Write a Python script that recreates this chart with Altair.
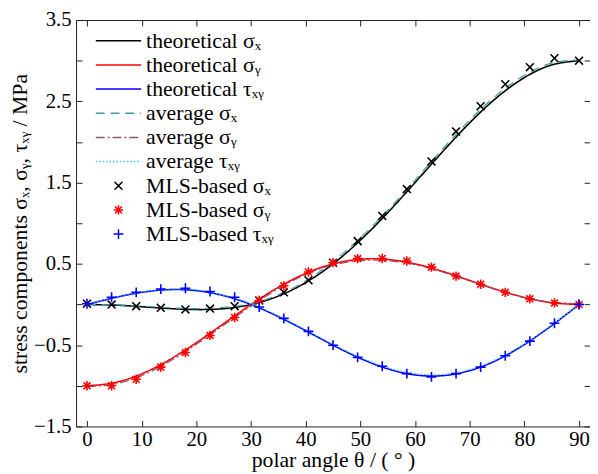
import altair as alt
import pandas as pd

# ---------------- data ----------------
series = [
    "theoretical σₓ", "theoretical σᵧ", "theoretical τₓᵧ",
    "average σₓ", "average σᵧ", "average τₓᵧ",
    "MLS-based σₓ", "MLS-based σᵧ", "MLS-based τₓᵧ",
]
colors = ["#000000", "#ff0000", "#0000ff",
          "#3f9f9f", "#94506f", "#35c8e8",
          "#000000", "#ff0000", "#0000ff"]

theta_curve = [0, 5, 10, 15, 20, 25, 30, 35, 40, 45, 50, 55, 60, 65, 70, 75, 80, 85, 90]
theo_sx = [0.0, -0.007, -0.027, -0.049, -0.062, -0.051, 0.0, 0.104, 0.270, 0.500, 0.791,
           1.130, 1.500, 1.877, 2.236, 2.549, 2.792, 2.947, 3.0]
theo_sy = [-1.0, -0.962, -0.853, -0.683, -0.470, -0.235, 0.0, 0.212, 0.383, 0.500, 0.557,
           0.554, 0.500, 0.408, 0.296, 0.183, 0.087, 0.023, 0.0]
theo_txy = [0.0, 0.084, 0.150, 0.183, 0.171, 0.109, 0.0, -0.149, -0.321, -0.500, -0.663,
            -0.791, -0.866, -0.875, -0.814, -0.683, -0.492, -0.258, 0.0]
avg_sx = [0.0, -0.005, -0.02, -0.04, -0.05, -0.035, 0.01, 0.12, 0.29, 0.53, 0.82,
          1.16, 1.53, 1.91, 2.27, 2.58, 2.82, 2.97, 3.01]
avg_sy = [-1.01, -0.98, -0.875, -0.705, -0.49, -0.255, -0.02, 0.195, 0.37, 0.485, 0.54,
          0.54, 0.49, 0.40, 0.29, 0.18, 0.085, 0.03, 0.01]
avg_txy = [0.005, 0.09, 0.155, 0.19, 0.18, 0.115, 0.01, -0.14, -0.31, -0.49, -0.65,
           -0.775, -0.85, -0.86, -0.80, -0.67, -0.485, -0.25, 0.0]

theta_mls = [0, 4.5, 9, 13.5, 18, 22.5, 27, 31.5, 36, 40.5, 45, 49.5, 54, 58.5, 63,
             67.5, 72, 76.5, 81, 85.5, 90]
mls_sx = [0.01, 0.0, -0.02, -0.04, -0.06, -0.05, -0.02, 0.05, 0.15, 0.30, 0.515, 0.78,
          1.09, 1.42, 1.76, 2.13, 2.44, 2.71, 2.92, 3.03, 3.0]
mls_sy = [-1.0, -1.0, -0.92, -0.77, -0.59, -0.38, -0.16, 0.05, 0.23, 0.40, 0.515, 0.565,
          0.567, 0.535, 0.46, 0.35, 0.25, 0.15, 0.07, 0.02, 0.0]
mls_txy = [0.01, 0.09, 0.15, 0.19, 0.20, 0.16, 0.09, -0.03, -0.17, -0.33, -0.50, -0.65,
           -0.76, -0.85, -0.89, -0.85, -0.77, -0.63, -0.45, -0.23, 0.0]

x_ticks = [0, 10, 20, 30, 40, 50, 60, 70, 80, 90]
y_ticks = [-1.5, -1.0, -0.5, 0.0, 0.5, 1.0, 1.5, 2.0, 2.5, 3.0, 3.5]

# ---------------- tables ----------------
def long_table(names, lists, thetas):
    rows = []
    for n, vals in zip(names, lists):
        for t, v in zip(thetas, vals):
            rows.append({"theta": t, "value": v, "series": n})
    return pd.DataFrame(rows)

df_theo = long_table(series[0:3], [theo_sx, theo_sy, theo_txy], theta_curve)
df_avg = long_table(series[3:6], [avg_sx, avg_sy, avg_txy], theta_curve)
df_mls = long_table(series[6:9], [mls_sx, mls_sy, mls_txy], theta_mls)

# legend / marker styles
line_path = "M-4.6,0H4.6"
cross_path = "M-0.8,-0.8L0.8,0.8M-0.8,0.8L0.8,-0.8"
star_path = "M-0.95,0H0.95M0,-0.95V0.95M-0.7,-0.7L0.7,0.7M-0.7,0.7L0.7,-0.7"
plus_path = "M-1,0H1M0,-1V1"
shapes = [line_path] * 6 + [cross_path, star_path, plus_path]
dashes = [[1, 0], [1, 0], [1, 0], [9, 6], [9, 3, 2, 3], [1.5, 2], [1, 0], [1, 0], [1, 0]]

FONT = "Liberation Serif"
inward = {"expr": "-6"}

legend = alt.Legend(orient="none", legendX=32, legendY=10, title=None)
color = alt.Color("series:N", scale=alt.Scale(domain=series, range=colors), legend=legend, title=None)
dash = alt.StrokeDash("series:N", scale=alt.Scale(domain=series, range=dashes), legend=legend, title=None)
shape = alt.Shape("series:N", scale=alt.Scale(domain=series, range=shapes), legend=legend, title=None)

xscale = alt.Scale(domain=[-2, 92], nice=False, zero=False)
yscale = alt.Scale(domain=[-1.5, 3.5], nice=False, zero=False)

x_bottom = alt.Axis(orient="bottom", values=x_ticks, format="d", tickSize=inward, labelPadding=8,
                    domain=False, grid=False, labelFlush=False, title="polar angle θ / ( ° )",
                    titlePadding=1)
y_left = alt.Axis(orient="left", values=y_ticks, tickSize=inward, labelPadding=11, domain=False,
                  grid=False, labelFlush=False,
                  labelExpr="abs(round(datum.value*2)) % 2 == 1 ? format(datum.value, '.1f') : ''",
                  title="stress components σₓ, σᵧ, τₓᵧ / MPa", titlePadding=2)
x_top = alt.Axis(orient="top", values=x_ticks, tickSize=inward, labels=False, domain=False,
                 grid=False, title=None)
y_right = alt.Axis(orient="right", values=y_ticks, tickSize=inward, labels=False, domain=False,
                   grid=False, title=None)

theo = alt.Chart(df_theo).mark_line(strokeWidth=1.6, interpolate="natural").encode(
    x=alt.X("theta:Q", scale=xscale, axis=x_bottom),
    y=alt.Y("value:Q", scale=yscale, axis=y_left),
    color=color, strokeDash=dash, detail="series:N",
)
avg = alt.Chart(df_avg).mark_line(strokeWidth=1.2, interpolate="natural").encode(
    x=alt.X("theta:Q", scale=xscale, axis=x_top),
    y=alt.Y("value:Q", scale=yscale, axis=y_right),
    color=color, strokeDash=dash, detail="series:N",
)
pts = alt.Chart(df_mls).mark_point(filled=False, size=100, strokeWidth=1.6, opacity=1).encode(
    x=alt.X("theta:Q", scale=xscale, axis=None),
    y=alt.Y("value:Q", scale=yscale, axis=None),
    color=color, shape=shape,
)

chart = alt.layer(theo, avg, pts).resolve_axis(x="independent", y="independent").properties(
    width=521, height=412,
    autosize=alt.AutoSizeParams(type="none"),
    padding={"left": 69, "top": 9, "right": 0, "bottom": 45},
).configure_view(stroke="#222222", strokeWidth=1).configure_axis(
    labelFont=FONT, labelFontSize=21, labelColor="#000000",
    titleFont=FONT, titleFontSize=22, titleFontWeight="normal", titleColor="#000000",
    tickColor="#222222", tickWidth=1,
).configure_legend(
    labelFont=FONT, labelFontSize=22, labelColor="#000000", symbolSize=100,
    symbolStrokeWidth=1.5, labelOffset=17, rowPadding=2.5, padding=0, labelLimit=0,
)

chart.save("out.html", embed_options={"renderer": "svg", "actions": False})
